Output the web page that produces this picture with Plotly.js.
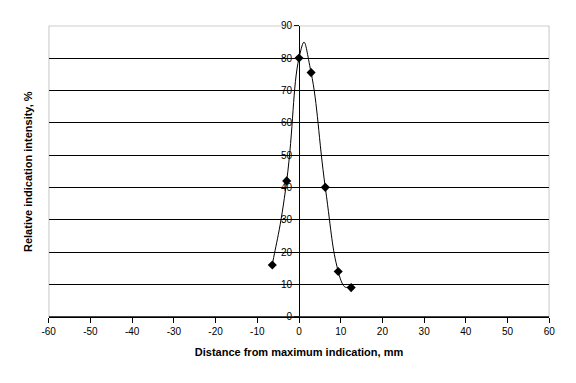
<!DOCTYPE html>
<html><head><meta charset="utf-8">
<script src="https://cdn.plot.ly/plotly-3.0.1.min.js"></script>
<style>html,body{margin:0;padding:0;background:#fff}#c{width:576px;height:383px}</style>
</head><body><div id="c"></div>
<script>
const distance = [-6.4, -2.95, 0, 2.9, 6.3, 9.4, 12.5];
const intensity = [16, 42, 80, 75.5, 40, 14, 9];
const xTicks = [-60, -50, -40, -30, -20, -10, 0, 10, 20, 30, 40, 50, 60];
const yTicks = [0, 10, 20, 30, 40, 50, 60, 70, 80, 90];

const W = 576;
const xL = 48.7, xR = 549.3;
const yTop = 25.7, yBot = 316.7, H = 383;

// smoothed line (Bezier, like a spreadsheet "smoothed line") built from the data arrays
function smoothPath(xs, ys, k) {
  const n = xs.length;
  let d = 'M' + xs[0] + ',' + ys[0];
  for (let i = 0; i < n - 1; i++) {
    const p0 = i > 0 ? i - 1 : i, p3 = i + 2 < n ? i + 2 : i + 1;
    const c1x = xs[i] + (xs[i + 1] - xs[p0]) * k;
    const c1y = ys[i] + (ys[i + 1] - ys[p0]) * k;
    const c2x = xs[i + 1] - (xs[p3] - xs[i]) * k;
    const c2y = ys[i + 1] - (ys[p3] - ys[i]) * k;
    d += ' C' + c1x + ',' + c1y + ' ' + c2x + ',' + c2y + ' ' + xs[i + 1] + ',' + ys[i + 1];
  }
  return d;
}

const trace = {
  x: distance, y: intensity, type: 'scatter', mode: 'markers',
  marker: {symbol: 'diamond', size: 7, color: '#000'},
  cliponaxis: false, hoverinfo: 'skip'
};

const font = {family: 'Liberation Sans, Arial, sans-serif', size: 10, color: '#000'};

const layout = {
  width: 576, height: 383,
  margin: {l: 0, r: 0, t: 0, b: 0},
  paper_bgcolor: '#fff', plot_bgcolor: '#fff',
  showlegend: false,
  font: font,
  xaxis: {
    domain: [xL / W, xR / W],
    range: [-60, 60], tickvals: xTicks, ticktext: xTicks.map(String),
    showgrid: false, zeroline: false,
    showline: true, linecolor: '#000', linewidth: 1,
    ticks: 'outside', ticklen: 5, tickcolor: '#000', tickwidth: 1,
    tickfont: font, fixedrange: true,
    title: {text: 'Distance from maximum indication, mm', font: {family: 'Liberation Sans, Arial, sans-serif', size: 11, color: '#000', weight: 'bold'}, standoff: 12}
  },
  yaxis: {
    domain: [(H - yBot) / H, (H - yTop) / H],
    range: [0, 90], tickvals: yTicks, ticktext: yTicks.map(String),
    anchor: 'free', position: (xL + (xR - xL) / 2) / W,
    showgrid: true, gridcolor: '#000', gridwidth: 1,
    zeroline: false,
    showline: true, linecolor: '#000', linewidth: 1,
    ticks: 'outside', ticklen: 5, tickcolor: '#000', tickwidth: 1,
    tickfont: font, fixedrange: true
  },
  shapes: [
    {type: 'rect', xref: 'x', yref: 'y', x0: -60, x1: 60, y0: 0, y1: 90,
     line: {color: '#808080', width: 1}, layer: 'above'},
    {type: 'line', xref: 'x', yref: 'y', x0: -60, x1: 60, y0: 0, y1: 0,
     line: {color: '#000', width: 1}, layer: 'above'},
    {type: 'path', xref: 'x', yref: 'y', path: smoothPath(distance, intensity, 0.25),
     line: {color: '#000', width: 1}, fillcolor: 'rgba(0,0,0,0)', layer: 'above'}
  ],
  annotations: [
    {text: 'Relative indication intensity, %', xref: 'paper', yref: 'paper',
     x: 28 / W, y: (H - 172) / H, xanchor: 'center', yanchor: 'middle',
     textangle: -90, showarrow: false,
     font: {family: 'Liberation Sans, Arial, sans-serif', size: 11, color: '#000', weight: 'bold'}}
  ]
};

Plotly.newPlot('c', [trace], layout, {displayModeBar: false, staticPlot: true});
</script></body></html>
